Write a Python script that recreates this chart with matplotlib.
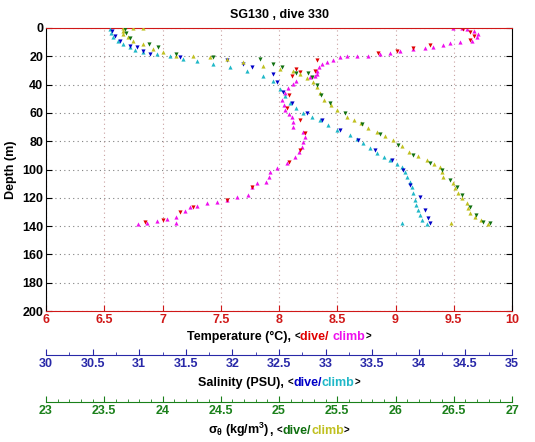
import matplotlib
matplotlib.use("Agg")
import matplotlib.pyplot as plt
from matplotlib.offsetbox import TextArea, HPacker, AnnotationBbox

plt.rcParams['font.family'] = ['Liberation Sans', 'DejaVu Sans']
plt.rcParams['font.weight'] = 'bold'
plt.rcParams['mathtext.default'] = 'regular'

# ---------------- data ----------------
title = "SG130 , dive 330"

# temperature (degC) vs depth (m)
temp_dive_T = [9.58, 9.64, 9.67, 9.64, 9.30, 9.15, 9.01, 8.85, 8.33, 8.31, 8.18, 8.15, 8.11,
               8.09, 8.07, 8.18, 8.22, 8.18, 8.09, 7.77, 7.55, 7.26, 7.15, 7.00, 6.85]
temp_dive_d = [0.7, 2.8, 5.7, 8.5, 12.0, 14.1, 16.3, 17.7, 22.6, 30.4, 31.1, 29.0, 33.9,
               47.3, 56.5, 65.0, 74.2, 86.2, 94.7, 112.4, 121.6, 126.5, 130.0, 135.7, 137.1]
temp_climb_T = [9.49, 9.57, 9.61, 9.67, 9.71, 9.70, 9.66, 9.55, 9.47, 9.41, 9.32, 9.25, 9.15,
                9.04, 8.95, 8.87, 8.76, 8.67, 8.58, 8.52, 8.46, 8.41, 8.37, 8.34, 8.33, 8.33,
                8.31, 8.27, 8.15, 8.12, 8.08, 8.05, 8.03, 8.04, 8.05, 8.09, 8.11, 8.12, 8.12,
                8.21, 8.22, 8.21, 8.20, 8.17, 8.14, 8.07, 7.98, 7.92, 7.91, 7.89, 7.81, 7.77,
                7.73, 7.64, 7.55, 7.47, 7.38, 7.30, 7.24, 7.19, 7.12, 7.04, 6.95, 6.87, 6.79, 7.12]
temp_climb_d = [0, 0, 0.7, 2.1, 4.2, 6.4, 9.2, 9.9, 10.6, 12.0, 13.4, 14.1, 14.8,
                16.3, 17.7, 18.4, 19.8, 19.8, 19.8, 20.5, 22.6, 24.0, 25.4, 27.6, 30.4, 32.5,
                33.9, 34.6, 37.5, 39.6, 42.4, 45.9, 50.9, 54.4, 58.0, 60.8, 62.9, 66.4, 70.0,
                73.5, 77.0, 80.6, 84.1, 87.6, 91.2, 95.4, 98.9, 101.8, 105.3, 108.8, 109.5, 112.4,
                118.0, 119.4, 121.6, 123.0, 123.7, 125.8, 126.5, 129.3, 133.6, 135.0, 136.4, 137.8, 138.5, 137.8]

# salinity (PSU) vs depth (m)
sal_dive_S = [30.71, 30.74, 30.79, 30.90, 30.98, 31.04, 31.12, 31.44, 31.94, 32.11, 32.21, 32.44,
              32.48, 32.54, 32.64, 32.80, 32.96, 33.15, 33.35, 33.53, 33.71, 33.83, 33.91, 34.01,
              34.07, 34.10, 34.12]
sal_dive_d = [2.1, 5.7, 9.2, 12.7, 13.4, 16.3, 18.4, 20.5, 22.6, 25.4, 27.6, 32.5,
              38.2, 45.2, 53.0, 60.1, 65.0, 72.1, 79.2, 86.2, 93.3, 100.4, 111.0, 119.4,
              128.6, 134.3, 137.8]
sal_climb_S = [30.69, 30.70, 30.72, 30.77, 30.83, 30.90, 30.95, 31.04, 31.19, 31.33, 31.47, 31.62,
               31.79, 31.97, 32.16, 32.33, 32.44, 32.51, 32.56, 32.62, 32.68, 32.76, 32.85, 32.94,
               33.03, 33.12, 33.26, 33.34, 33.40, 33.48, 33.55, 33.63, 33.69, 33.77, 33.82, 33.85,
               33.87, 33.91, 33.93, 33.94, 33.96, 33.97, 33.99, 34.01, 34.03, 34.09, 33.82]
sal_climb_d = [0.7, 3.5, 6.4, 9.2, 11.3, 13.4, 15.5, 17.0, 18.4, 19.8, 21.9, 23.3,
               25.4, 27.6, 30.4, 33.9, 37.5, 43.1, 48.1, 53.0, 56.5, 60.1, 62.9, 65.0,
               68.6, 72.1, 75.6, 78.4, 81.3, 84.8, 88.3, 91.2, 93.3, 96.1, 98.2, 101.8,
               105.3, 108.8, 112.4, 116.6, 121.6, 125.1, 128.6, 132.2, 135.7, 138.5, 137.8]

# sigma-theta (kg/m3) vs depth (m)
sig_dive = [23.68, 23.69, 23.72, 23.88, 23.96, 24.12, 24.43, 24.84, 24.95, 25.03, 25.15, 25.25,
            25.28, 25.33, 25.36, 25.44, 25.57, 25.71, 25.87, 26.02, 26.15, 26.30, 26.40, 26.47,
            26.53, 26.57, 26.64, 26.69, 26.75, 26.81]
sig_dive_d = [0.7, 3.5, 7.1, 11.3, 13.4, 18.4, 20.5, 21.9, 25.4, 27.6, 31.8, 31.8,
              34.6, 40.3, 47.3, 53.0, 60.1, 67.8, 74.9, 82.7, 89.8, 95.4, 100.4, 107.4,
              112.4, 118.0, 126.5, 132.2, 137.1, 137.8]
sig_climb = [23.66, 23.75, 23.83, 23.66, 23.66, 23.70, 23.75, 23.83, 23.92, 24.00, 24.12, 24.26,
             24.41, 24.55, 24.69, 24.86, 25.01, 25.12, 25.18, 25.24, 25.29, 25.33, 25.35, 25.39,
             25.45, 25.50, 25.58, 25.64, 25.70, 25.76, 25.84, 25.91, 25.98, 26.06, 26.12, 26.19,
             26.27, 26.33, 26.38, 26.40, 26.41, 26.49, 26.51, 26.54, 26.57, 26.61, 26.62, 26.64,
             26.68, 26.73, 26.79, 26.48]
sig_climb_d = [0, 0, 0, 2.1, 4.2, 6.4, 9.2, 11.3, 14.8, 17.0, 19.8, 19.8,
               20.5, 21.9, 24.0, 26.9, 29.0, 30.4, 32.5, 35.3, 38.2, 41.7, 45.9, 50.9,
               54.4, 58.0, 62.9, 65.0, 67.1, 70.7, 73.5, 76.3, 79.2, 83.4, 87.6, 90.5,
               93.3, 96.1, 98.2, 101.8, 105.3, 109.5, 113.1, 116.6, 120.1, 123.7, 127.2, 130.7,
               133.6, 135.7, 138.5, 137.8]

depth_ticks = list(range(0, 201, 20))
temp_ticks = [6, 6.5, 7, 7.5, 8, 8.5, 9, 9.5, 10]
sal_ticks = [30, 30.5, 31, 31.5, 32, 32.5, 33, 33.5, 34, 34.5, 35]
sig_ticks = [23, 23.5, 24, 24.5, 25, 25.5, 26, 26.5, 27]

# ---------------- style ----------------
RED = '#e00000'
MAG = '#ee10ee'
BLUE = '#0000c8'
CYAN = '#20b8c8'
GREEN = '#107010'
YEL = '#c0c020'
RED_AX = '#d01818'
BLUE_AX = '#2828a8'
GREEN_AX = '#1a801a'
FS = 9

W, H = 535, 442
fig = plt.figure(figsize=(W / 100, H / 100), dpi=100)
L, R, T, B = 46, 512, 28, 311
ax = fig.add_axes([L / W, 1 - B / H, (R - L) / W, (B - T) / H])

ax.set_xlim(6, 10)
ax.set_ylim(200, 0)
ax.set_xticks(temp_ticks)
ax.set_xticklabels([f"{t:g}" for t in temp_ticks])
ax.set_yticks(depth_ticks)
ax.tick_params(axis='x', colors=RED_AX, direction='in', top=True, length=4, labelsize=FS, pad=2)
ax.tick_params(axis='y', colors='black', direction='in', right=True, length=4, labelsize=FS, pad=2)
for s in ('top', 'bottom'):
    ax.spines[s].set_color(RED_AX)
for s in ('left', 'right'):
    ax.spines[s].set_color('black')
ax.xaxis.grid(True, linestyle=(0, (1, 3)), color='#c8a0a0', linewidth=0.8)
ax.yaxis.grid(True, linestyle=(0, (1, 3)), color='#808080', linewidth=0.8)
ax.set_axisbelow(True)
ax.set_ylabel("Depth (m)", fontsize=FS, fontweight='bold', labelpad=4)
ax.set_title(title, fontsize=FS, fontweight='bold', pad=7)

mk = dict(linestyle='none', markersize=3.0, markeredgewidth=0)
ax.plot(temp_climb_T, temp_climb_d, marker='^', color=MAG, **mk)
ax.plot(temp_dive_T, temp_dive_d, marker='v', color=RED, **mk)


def make_twin(lo, hi, ticks, minor, color, offset_px):
    tw = ax.twiny()
    tw.set_xlim(lo, hi)
    tw.set_ylim(200, 0)
    tw.xaxis.set_ticks_position('bottom')
    tw.xaxis.set_label_position('bottom')
    tw.spines['bottom'].set_position(('axes', -offset_px / (B - T)))
    for s in ('top', 'left', 'right'):
        tw.spines[s].set_visible(False)
    tw.spines['bottom'].set_color(color)
    tw.set_xticks(ticks)
    tw.set_xticklabels([f"{t:g}" for t in ticks])
    tw.set_xticks(minor, minor=True)
    tw.tick_params(axis='x', which='major', colors=color, direction='in', length=4,
                   labelsize=FS, pad=2)
    tw.tick_params(axis='x', which='minor', colors=color, direction='in', length=2)
    tw.tick_params(axis='y', left=False, right=False, labelleft=False)
    return tw


sal_minor = [30 + 0.25 * i for i in range(21)]
sig_minor = [23 + 0.1 * i for i in range(41)]
ax_s = make_twin(30, 35, sal_ticks, sal_minor, BLUE_AX, 44)
ax_s.plot(sal_climb_S, sal_climb_d, marker='^', color=CYAN, **mk)
ax_s.plot(sal_dive_S, sal_dive_d, marker='v', color=BLUE, **mk)

ax_g = make_twin(23, 27, sig_ticks, sig_minor, GREEN_AX, 91)
ax_g.plot(sig_climb, sig_climb_d, marker='^', color=YEL, **mk)
ax_g.plot(sig_dive, sig_dive_d, marker='v', color=GREEN, **mk)


def color_label(parts, y_px):
    areas = []
    for txt, c in parts:
        fs = 7 if txt in ("<", ">") else FS
        areas.append(TextArea(txt, textprops=dict(color=c, fontsize=fs, fontweight='bold')))
    box = HPacker(children=areas, align='baseline', pad=0, sep=0)
    ab = AnnotationBbox(box, ((L + R) / 2 / W, 1 - y_px / H), xycoords='figure fraction',
                        box_alignment=(0.5, 0.5), frameon=False, pad=0)
    fig.add_artist(ab)


color_label([("Temperature (°C), ", 'black'), ("<", 'black'), ("dive/ ", RED), ("climb", MAG),
             (">", 'black')], 337)
color_label([("Salinity (PSU), ", 'black'), ("<", 'black'), ("dive/", BLUE), ("climb", CYAN),
             (">", 'black')], 383)
color_label([(r"$\sigma_\theta$ (kg/m$^3$)", 'black'), (", ", 'black'), ("<", 'black'),
             ("dive/", GREEN), ("climb", YEL), (">", 'black')], 430)

fig.savefig("out.png", dpi=100)
